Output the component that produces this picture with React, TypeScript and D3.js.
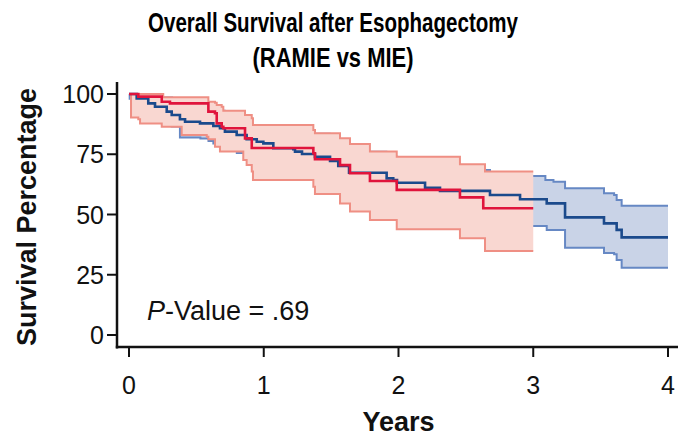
import React from "react";
import * as d3 from "d3";

// ---- Data ----
const xTicks = [0, 1, 2, 3, 4];
const yTicks = [0, 25, 50, 75, 100];

// RAMIE (red) Kaplan-Meier estimate and 95% CI
const ramieTimes = [0, 0.069, 0.243, 0.304, 0.589, 0.638, 0.651, 0.688, 0.7, 0.861, 0.911, 1.368, 1.38, 1.566, 1.64, 1.788, 1.987, 2.456, 2.629, 3.0];
const ramieSurv = [100, 98.9, 96.8, 96.1, 92.7, 92.0, 87.8, 86.4, 85.8, 81.6, 77.6, 75.4, 72.9, 70.5, 67.1, 63.9, 60.2, 57.1, 52.6, 52.6];
const ramieUpperTimes = [0, 0.254, 0.589, 0.638, 0.651, 0.688, 0.7, 0.861, 0.911, 0.92, 1.368, 1.38, 1.566, 1.64, 1.788, 1.987, 2.456, 2.642, 3.0];
const ramieUpper = [100, 98.6, 96.8, 96.4, 95.4, 94.7, 93.1, 91.3, 89.9, 87.1, 85.1, 83.7, 81.6, 79.3, 76.1, 74.0, 70.8, 67.8, 67.8];
const ramieLowerTimes = [0, 0.015, 0.069, 0.082, 0.243, 0.391, 0.577, 0.589, 0.638, 0.675, 0.848, 0.873, 0.911, 0.92, 1.368, 1.38, 1.566, 1.64, 1.788, 1.987, 2.456, 2.642, 3.0];
const ramieLower = [100, 90.2, 89.5, 87.8, 86.4, 83.0, 82.3, 81.2, 78.1, 76.1, 72.6, 70.5, 67.8, 64.3, 61.5, 58.5, 54.6, 51.2, 47.7, 43.9, 40.1, 34.9, 34.9];

// MIE (blue) Kaplan-Meier estimate and 95% CI
const mieTimes = [0, 0.057, 0.143, 0.193, 0.28, 0.317, 0.378, 0.416, 0.527, 0.626, 0.675, 0.712, 0.799, 0.873, 0.948, 0.997, 1.071, 1.219, 1.232, 1.284, 1.38, 1.492, 1.553, 1.633, 1.912, 1.961, 1.989, 2.197, 2.308, 2.679, 2.902, 3.1, 3.236, 3.525, 3.619, 3.656, 4.0];
const mieSurv = [100, 98.2, 96.1, 94.7, 92.7, 91.3, 89.5, 88.5, 87.8, 86.7, 85.8, 84.4, 83.0, 81.2, 80.2, 79.5, 77.5, 77.1, 76.1, 75.1, 73.9, 72.2, 70.1, 67.3, 65.0, 64.3, 63.2, 61.1, 59.8, 58.1, 56.3, 54.6, 48.8, 46.3, 43.6, 40.5, 40.5];
const mieUpperTimes = [0, 0.2, 0.32, 0.42, 0.63, 0.71, 0.8, 0.87, 1.07, 1.23, 1.38, 1.49, 1.55, 1.63, 1.91, 1.99, 2.2, 2.31, 2.679, 2.902, 3.09, 3.15, 3.236, 3.525, 3.6, 3.619, 3.656, 4.0];
const mieUpper = [100, 98.5, 96.5, 95, 93.0, 92.3, 91, 87.0, 86.5, 85.0, 83.5, 81.5, 79.2, 76.0, 74.0, 73.0, 71.5, 68.5, 66.8, 66.0, 64.3, 63.6, 60.9, 58.8, 58.1, 56.0, 53.6, 53.6];
const mieLowerTimes = [0, 0.005, 0.03, 0.06, 0.14, 0.19, 0.28, 0.317, 0.378, 0.53, 0.59, 0.626, 0.712, 0.8, 0.873, 0.948, 1.071, 1.232, 1.38, 1.49, 1.553, 1.633, 1.912, 1.99, 2.197, 2.308, 2.679, 2.902, 3.1, 3.236, 3.525, 3.6, 3.619, 3.656, 4.0];
const mieLower = [100, 98, 95.5, 93, 90.5, 89, 87, 86.5, 82.0, 81.5, 80.5, 79.5, 77.5, 75.5, 73.5, 72, 69.5, 68, 66, 64, 62, 59, 56.5, 55, 52.5, 51, 49.5, 45.2, 43.6, 36.2, 34.0, 33.5, 31.1, 27.9, 27.9];

const FONT = "'Liberation Sans', Arial, Helvetica, sans-serif";

type Pt = { t: number; v: number };
const zipPts = (ts: number[], vs: number[]): Pt[] => ts.map((t, i) => ({ t, v: vs[i] }));

function stepValue(ts: number[], vs: number[], t: number): number {
  let v = vs[0];
  for (let i = 0; i < ts.length; i++) {
    if (ts[i] <= t + 1e-9) v = vs[i];
    else break;
  }
  return v;
}

function bandPoints(ut: number[], uv: number[], lt: number[], lv: number[]) {
  const all = Array.from(new Set([...ut, ...lt])).sort((a, b) => a - b);
  return all.map((t) => ({ t, hi: stepValue(ut, uv, t), lo: stepValue(lt, lv, t) }));
}

export default function App() {
  const x = d3.scaleLinear().domain([0, 4]).range([129, 668]);
  const y = d3.scaleLinear().domain([0, 100]).range([335, 94]);

  const line = d3
    .line<Pt>()
    .x((d) => x(d.t))
    .y((d) => y(d.v))
    .curve(d3.curveStepAfter);
  const area = d3
    .area<{ t: number; hi: number; lo: number }>()
    .x((d) => x(d.t))
    .y0((d) => y(d.lo))
    .y1((d) => y(d.hi))
    .curve(d3.curveStepAfter);

  const mieBand = bandPoints(mieUpperTimes, mieUpper, mieLowerTimes, mieLower);
  const ramieBand = bandPoints(ramieUpperTimes, ramieUpper, ramieLowerTimes, ramieLower);

  const blueFill = "#c9d3e7";
  const blueCI = "#6688c4";
  const blueLine = "#1b4a8c";
  const redFill = "#f9d7d1";
  const redCI = "#ef8f84";
  const redLine = "#e0143c";

  return (
    <svg
      width={680}
      height={439}
      style={{ position: "absolute", left: 0, top: 0, background: "#fff" }}
      fontFamily={FONT}
    >
      <rect width={680} height={439} fill="#fff" />
      {/* Title */}
      <text x={333} y={32} textAnchor="middle" fontSize={27} fontWeight="bold" textLength={370} lengthAdjust="spacingAndGlyphs">
        Overall Survival after Esophagectomy
      </text>
      <text x={333} y={67} textAnchor="middle" fontSize={27} fontWeight="bold" textLength={161} lengthAdjust="spacingAndGlyphs">
        (RAMIE vs MIE)
      </text>

      {/* MIE band */}
      <path d={area(mieBand) || ""} fill={blueFill} stroke="none" />
      <path d={line(zipPts(mieUpperTimes, mieUpper)) || ""} fill="none" stroke={blueCI} strokeWidth={2} />
      <path d={line(zipPts(mieLowerTimes, mieLower)) || ""} fill="none" stroke={blueCI} strokeWidth={2} />

      {/* RAMIE band */}
      <path d={area(ramieBand) || ""} fill={redFill} stroke="none" />
      <path d={line(zipPts(ramieUpperTimes, ramieUpper)) || ""} fill="none" stroke={redCI} strokeWidth={2} />
      <path d={line(zipPts(ramieLowerTimes, ramieLower)) || ""} fill="none" stroke={redCI} strokeWidth={2} />

      {/* Survival curves */}
      <path d={line(zipPts(mieTimes, mieSurv)) || ""} fill="none" stroke={blueLine} strokeWidth={2.6} />
      <path d={line(zipPts(ramieTimes, ramieSurv)) || ""} fill="none" stroke={redLine} strokeWidth={2.6} />

      {/* Axes */}
      <line x1={117} x2={117} y1={82} y2={348.5} stroke="#111" strokeWidth={2.5} />
      <line x1={115.8} x2={678} y1={347} y2={347} stroke="#111" strokeWidth={2.5} />
      {yTicks.map((t) => (
        <g key={"y" + t}>
          <line x1={107} x2={117} y1={y(t)} y2={y(t)} stroke="#111" strokeWidth={2} />
          <text x={104} y={y(t)} dy="0.36em" textAnchor="end" fontSize={25} fill="#111">
            {t}
          </text>
        </g>
      ))}
      {xTicks.map((t) => (
        <g key={"x" + t}>
          <line x1={x(t)} x2={x(t)} y1={347} y2={357} stroke="#111" strokeWidth={2} />
          <text x={x(t)} y={394} textAnchor="middle" fontSize={25} fill="#111">
            {t}
          </text>
        </g>
      ))}

      {/* Axis titles */}
      <text x={398.5} y={431} textAnchor="middle" fontSize={27} fontWeight="bold" fill="#111">
        Years
      </text>
      <text transform="translate(36,217) rotate(-90)" textAnchor="middle" fontSize={27} fontWeight="bold" fill="#111">
        Survival Percentage
      </text>

      {/* P value */}
      <text x={147} y={320} fontSize={27} fill="#111">
        <tspan fontStyle="italic">P</tspan>-Value = .69
      </text>
    </svg>
  );
}
